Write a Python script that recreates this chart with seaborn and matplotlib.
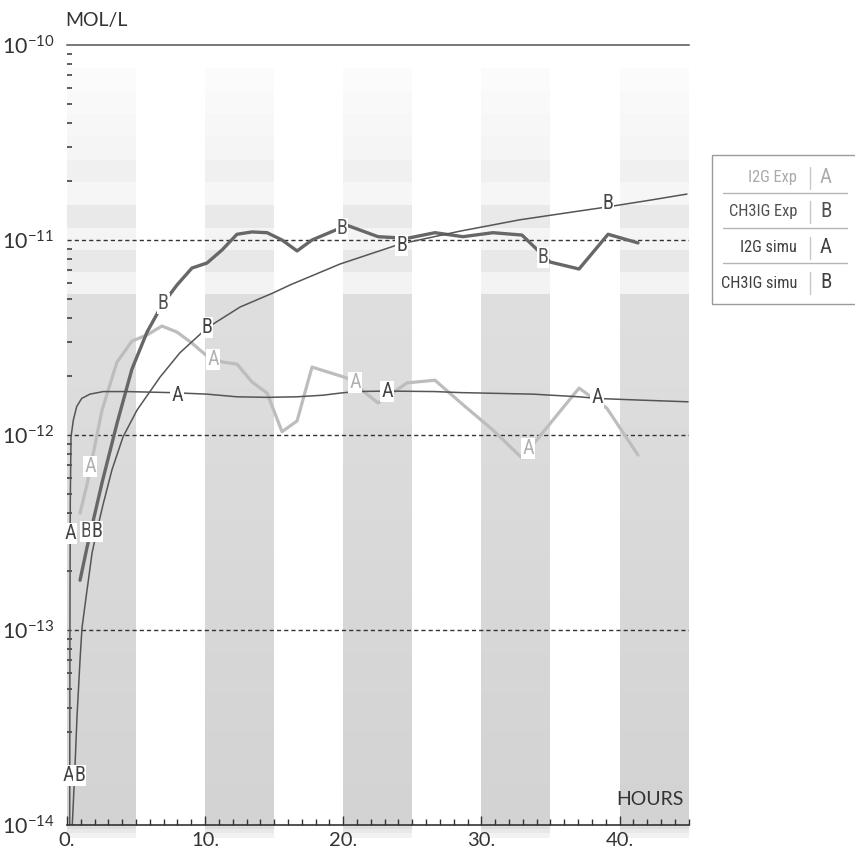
import numpy as np
import matplotlib
matplotlib.use("Agg")
import matplotlib.pyplot as plt
import matplotlib.transforms as mtransforms
from matplotlib import font_manager as fm
from matplotlib.patches import Rectangle
from matplotlib.lines import Line2D
from matplotlib.ticker import FixedLocator, FuncFormatter, LogLocator, MultipleLocator, NullFormatter
import seaborn as sns

# ---------------------------------------------------------------- data
# experimental I2G (mol/L) versus time (hours)
i2g_exp_t = [0.95, 1.45, 2.54, 3.63, 4.71, 5.80, 6.88, 7.97, 9.05, 10.14, 11.23, 12.31,
             13.40, 14.49, 15.57, 16.66, 17.74, 20.27, 22.52, 24.62, 26.64, 28.67,
             30.84, 32.94, 37.07, 39.09, 41.34]
i2g_exp_c = [3.98e-13, 5.55e-13, 1.34e-12, 2.37e-12, 3.03e-12, 3.26e-12, 3.62e-12, 3.37e-12,
             2.96e-12, 2.54e-12, 2.37e-12, 2.31e-12, 1.87e-12, 1.64e-12, 1.04e-12, 1.18e-12,
             2.23e-12, 1.96e-12, 1.46e-12, 1.85e-12, 1.91e-12, 1.43e-12, 1.06e-12, 7.62e-13,
             1.74e-12, 1.37e-12, 7.89e-13]

# experimental CH3IG
ch3ig_exp_t = [0.95, 1.45, 2.54, 3.63, 4.71, 5.80, 6.88, 7.97, 9.05, 10.14, 11.23, 12.31,
               13.40, 14.49, 15.57, 16.66, 17.74, 20.27, 22.52, 24.62, 26.64, 28.67,
               30.84, 32.94, 34.97, 37.07, 39.17, 41.34]
ch3ig_exp_c = [1.80e-13, 2.64e-13, 5.68e-13, 1.15e-12, 2.18e-12, 3.37e-12, 4.64e-12, 5.88e-12,
               7.18e-12, 7.62e-12, 8.89e-12, 1.07e-11, 1.10e-11, 1.09e-11, 1.00e-11, 8.79e-12,
               1.00e-11, 1.19e-11, 1.04e-11, 1.02e-11, 1.09e-11, 1.04e-11, 1.09e-11, 1.06e-11,
               7.71e-12, 7.10e-12, 1.07e-11, 9.66e-12]

# simulated I2G
i2g_sim_t = [0.20, 0.224, 0.246, 0.297, 0.463, 0.709, 1.07, 1.67, 2.63, 4.33, 7.46, 10.14,
             12.31, 14.49, 16.66, 18.54, 19.77, 20.85, 23.17, 26.64, 28.45, 33.74, 37.07,
             38.37, 41.48, 44.96]
i2g_sim_c = [8.0e-15, 1.43e-13, 4.64e-13, 9.77e-13, 1.19e-12, 1.40e-12, 1.54e-12, 1.62e-12,
             1.67e-12, 1.67e-12, 1.65e-12, 1.62e-12, 1.57e-12, 1.56e-12, 1.57e-12, 1.60e-12,
             1.64e-12, 1.67e-12, 1.68e-12, 1.67e-12, 1.65e-12, 1.62e-12, 1.57e-12, 1.54e-12,
             1.51e-12, 1.48e-12]

# simulated CH3IG
ch3ig_sim_t = [0.37, 0.44, 0.59, 0.73, 0.95, 1.09, 1.38, 1.82, 2.18, 2.61, 3.26, 4.06, 5.07,
               6.74, 8.18, 10.14, 12.53, 14.92, 16.15, 19.77, 24.11, 28.45, 32.80, 37.14,
               39.18, 42.20, 44.88]
ch3ig_sim_c = [9.4e-15, 1.19e-14, 2.03e-14, 3.58e-14, 7.02e-14, 1.02e-13, 1.46e-13, 2.48e-13,
               3.26e-13, 4.38e-13, 6.62e-13, 9.77e-13, 1.34e-12, 1.98e-12, 2.64e-12, 3.54e-12,
               4.53e-12, 5.35e-12, 5.88e-12, 7.53e-12, 9.53e-12, 1.11e-11, 1.27e-11, 1.41e-11,
               1.48e-11, 1.60e-11, 1.72e-11]

# letter tags placed along each curve (time, concentration)
i2g_exp_tag_t = [1.67, 10.58, 20.85, 33.38]
i2g_exp_tag_c = [6.86e-13, 2.43e-12, 1.85e-12, 8.57e-13]
ch3ig_exp_tag_t = [1.40, 6.96, 19.91, 34.46]
ch3ig_exp_tag_c = [3.19e-13, 4.70e-12, 1.15e-11, 8.18e-12]
i2g_sim_tag_t = [0.10, 0.22, 7.97, 23.17, 38.37]
i2g_sim_tag_c = [1.80e-14, 3.14e-13, 1.60e-12, 1.68e-12, 1.55e-12]
ch3ig_sim_tag_t = [0.92, 2.16, 10.14, 24.25, 39.17]
ch3ig_sim_tag_c = [1.80e-14, 3.19e-13, 3.54e-12, 9.42e-12, 1.53e-11]

# night periods (start hour, duration)
night_starts = [0, 10, 20, 30, 40]
night_length = 5

x_ticks = [0, 10, 20, 30, 40]
x_tick_labels = ["0.", "10.", "20.", "30.", "40."]
y_ticks = [1e-14, 1e-13, 1e-12, 1e-11, 1e-10]
grid_levels = [1e-11, 1e-12, 1e-13]

legend_names = ["I2G Exp", "CH3IG Exp", "I2G simu", "CH3IG simu"]
legend_letters = ["A", "B", "A", "B"]

# ---------------------------------------------------------------- style
sns.set_theme(style="white")
plt.rcParams["font.family"] = ["Lato", "DejaVu Sans"]
plt.rcParams["mathtext.fontset"] = "custom"
plt.rcParams["mathtext.rm"] = "Lato"
plt.rcParams["mathtext.it"] = "Lato:italic"
plt.rcParams["mathtext.bf"] = "Lato:bold"


def narrow_font():
    entries = fm.fontManager.ttflist
    names = {f.name for f in entries}
    for fam in ["Liberation Sans Narrow", "Roboto Condensed", "Open Sans Condensed",
                "DejaVu Sans Condensed"]:
        if fam in names:
            return {"family": fam}
    for f in entries:
        if f.name == "DejaVu Sans" and "condensed" in str(f.stretch):
            return {"family": "DejaVu Sans", "stretch": "condensed"}
    return {"family": "DejaVu Sans Mono"}


NARROW = narrow_font()

W, H = 855, 851
fig = plt.figure(figsize=(W / 100, H / 100), dpi=100)
ax = fig.add_axes([66.9 / W, 26 / H, (688.6 - 66.9) / W, 780 / H])
ax.set_yscale("log")
ax.set_xlim(0, 45)
ax.set_ylim(1e-14, 1e-10)

# ---------------------------------------------------------------- night shading
band_tr = mtransforms.blended_transform_factory(ax.transData, ax.transAxes)


def frac(py):
    return (825 - py) / 780.0


stripe_edges = [68, 91, 114, 137, 160, 182, 205, 228, 250, 272, 295]
stripe_greys = [0.985, 0.975, 0.97, 0.962, 0.94, 0.965, 0.915, 0.955, 0.91, 0.952]
n_grad = 40
grad_edges = np.linspace(295, 825, n_grad + 1)
grad_greys = np.linspace(0.872, 0.826, n_grad)
fade_edges = [825, 829, 833, 838]
fade_greys = [0.87, 0.91, 0.95]

for x0 in night_starts:
    for (a, b), g in zip(zip(stripe_edges[:-1], stripe_edges[1:]), stripe_greys):
        ax.add_patch(Rectangle((x0, frac(b)), night_length, frac(a) - frac(b),
                               transform=band_tr, color=str(g), lw=0, zorder=0.2))
    for (a, b), g in zip(zip(grad_edges[:-1], grad_edges[1:]), grad_greys):
        ax.add_patch(Rectangle((x0, frac(b)), night_length, frac(a) - frac(b) + 0.001,
                               transform=band_tr, color=str(g), lw=0, zorder=0.2))
    for (a, b), g in zip(zip(fade_edges[:-1], fade_edges[1:]), fade_greys):
        ax.add_patch(Rectangle((x0, frac(b)), night_length, frac(a) - frac(b),
                               transform=band_tr, color=str(g), lw=0, zorder=0.2,
                               clip_on=False))

for lvl in grid_levels:
    ax.axhline(lvl, color="#333333", lw=1.0, ls=(0, (3, 2.2)), zorder=1.5)

# ---------------------------------------------------------------- curves
sns.lineplot(x=i2g_exp_t, y=i2g_exp_c, ax=ax, color="#bdbdbd", lw=2.3,
             sort=False, estimator=None, zorder=2)
sns.lineplot(x=ch3ig_exp_t, y=ch3ig_exp_c, ax=ax, color="#676767", lw=2.4,
             sort=False, estimator=None, zorder=2.2)
sns.lineplot(x=i2g_sim_t, y=i2g_sim_c, ax=ax, color="#555555", lw=1.1,
             sort=False, estimator=None, zorder=2.4)
sns.lineplot(x=ch3ig_sim_t, y=ch3ig_sim_c, ax=ax, color="#555555", lw=1.1,
             sort=False, estimator=None, zorder=2.4)


def tags(ts, cs, letter, color):
    for t, c in zip(ts, cs):
        ax.text(t, c, letter, ha="center", va="center", color=color, fontsize=14.5,
                zorder=5, bbox=dict(boxstyle="square,pad=0.05", fc="white", ec="none"),
                **NARROW)


tags(i2g_exp_tag_t, i2g_exp_tag_c, "A", "#b0b0b0")
tags(ch3ig_exp_tag_t, ch3ig_exp_tag_c, "B", "#555555")
tags(i2g_sim_tag_t, i2g_sim_tag_c, "A", "#444444")
tags(ch3ig_sim_tag_t, ch3ig_sim_tag_c, "B", "#444444")

# ---------------------------------------------------------------- axes
for side in ("left", "right"):
    ax.spines[side].set_visible(False)
ax.spines["top"].set_color("#555555")
ax.spines["top"].set_linewidth(1.1)
ax.spines["bottom"].set_color("#333333")
ax.spines["bottom"].set_linewidth(1.2)

ax.set_xticks(x_ticks)
ax.set_xticklabels(x_tick_labels)
ax.xaxis.set_minor_locator(MultipleLocator(1))
ax.tick_params(axis="x", which="major", direction="in", length=6.5, width=1.0,
               color="#333333", pad=5, labelsize=14.5, labelcolor="#333333", bottom=True)
ax.tick_params(axis="x", which="minor", direction="in", length=4.3, width=1.0,
               color="#333333", bottom=True)

ax.yaxis.set_major_locator(FixedLocator(y_ticks))
ax.yaxis.set_major_formatter(FuncFormatter(lambda v, p: r"$10^{%d}$" % int(round(np.log10(v)))))
ax.yaxis.set_minor_locator(LogLocator(base=10, subs=np.arange(2, 10)))
ax.yaxis.set_minor_formatter(NullFormatter())
ax.tick_params(axis="y", which="major", length=0, pad=9, labelsize=15.5,
               labelcolor="#333333", left=True)
ax.tick_params(axis="y", which="minor", direction="in", length=3.6, width=1.1,
               color="#333333", left=True)
ax.set_xlabel("")
ax.set_ylabel("")

fig.text(65.7 / W, 1 - 26 / H, "MOL/L", fontsize=14, color="#333333",
         ha="left", va="baseline")
fig.text(684 / W, 1 - 805 / H, "HOURS", fontsize=14, color="#333333",
         ha="right", va="baseline")

# ---------------------------------------------------------------- key
fig.patches.append(Rectangle((712 / W, 1 - 304 / H), (870 - 712) / W, (304 - 155) / H,
                             transform=fig.transFigure, fill=False, ec="#9a9a9a", lw=1.0))
row_y = [177.5, 211.5, 247.5, 283]
sep_y = [193, 228, 263]
for sy in sep_y:
    fig.add_artist(Line2D([723 / W, 847 / W], [1 - sy / H, 1 - sy / H],
                          transform=fig.transFigure, color="#b5b5b5", lw=1.0))
key_colors = ["#aaaaaa", "#505050", "#404040", "#404040"]
for name, letter, ry, col in zip(legend_names, legend_letters, row_y, key_colors):
    fig.add_artist(Line2D([810 / W, 810 / W], [1 - (ry - 11) / H, 1 - (ry + 11) / H],
                          transform=fig.transFigure, color="#c8c8c8", lw=1.0))
    fig.text(797 / W, 1 - ry / H, name, ha="right", va="center", fontsize=11.8,
             color=col, **NARROW)
    fig.text(826 / W, 1 - ry / H, letter, ha="center", va="center", fontsize=15,
             color=col, **NARROW)

fig.savefig("out.png", dpi=100)
